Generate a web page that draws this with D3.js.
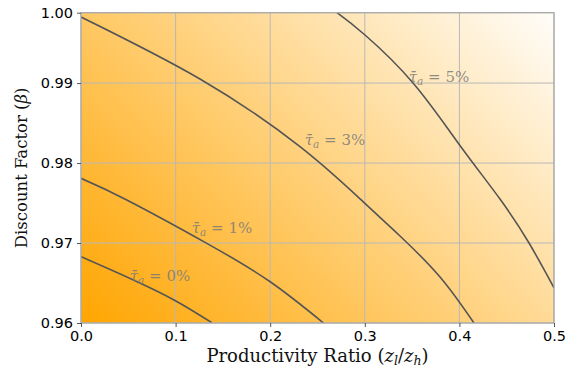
<!DOCTYPE html>
<html>
<head>
<meta charset="utf-8">
<script src="https://cdn.jsdelivr.net/npm/d3@7"></script>
<style>
  body { margin: 0; background: #fff; }
  text { font-family: "DejaVu Sans", sans-serif; }
</style>
</head>
<body>
<div id="chart"></div>
<script>
// contour lines: [productivity ratio, beta]
var contour0 = [[0, 0.96829], [0.0553, 0.96538], [0.0998, 0.96279], [0.1383, 0.96004]];
var contour1 = [[0, 0.97809], [0.0484, 0.97538], [0.1330, 0.96996], [0.2, 0.96516], [0.2564, 0.96]];
var contour3 = [[0, 0.99826], [0.1258, 0.99051], [0.2315, 0.98205], [0.2981, 0.97517],
                [0.3372, 0.97088], [0.3795, 0.96575], [0.4154, 0.96]];
var contour5 = [[0.2706, 0.9988], [0.3002, 0.99601], [0.3510, 0.99001], [0.4006, 0.98220],
                [0.4429, 0.97550], [0.4736, 0.97], [0.5, 0.9644]];

var levels = ["0%", "1%", "3%", "5%"];
// label anchor points [x, beta] (text baseline, centred)
var labelPos = [[0.0835, 0.96525], [0.149, 0.97125], [0.2685, 0.98225], [0.3784, 0.99013]];

var xTicks = [0, 0.1, 0.2, 0.3, 0.4, 0.5];
var yTicks = [0.96, 0.97, 0.98, 0.99, 0.9988];

function init() {
    var W = 567, H = 375;
    var left = 81, right = 554, top = 12.7, bottom = 323;

    var x = d3.scaleLinear().domain([0, 0.5]).range([left, right]);
    var y = d3.scaleLinear().domain([0.96, 0.9988]).range([bottom, top]);

    var svg = d3.select("#chart")
                .append("svg")
                .attr("width", W)
                .attr("height", H);

    var defs = svg.append("defs");
    var grad = defs.append("linearGradient")
        .attr("id", "bg")
        .attr("gradientUnits", "userSpaceOnUse")
        .attr("x1", left).attr("y1", bottom)
        .attr("x2", left + 397).attr("y2", bottom - 401);
    grad.append("stop").attr("offset", 0).attr("stop-color", "rgb(255,165,0)");
    grad.append("stop").attr("offset", 1).attr("stop-color", "rgb(255,255,255)");

    defs.append("clipPath").attr("id", "clip")
        .append("rect")
        .attr("x", left).attr("y", top)
        .attr("width", right - left).attr("height", bottom - top);

    svg.append("rect")
       .attr("x", left).attr("y", top)
       .attr("width", right - left).attr("height", bottom - top)
       .attr("fill", "url(#bg)");

    // grid
    svg.append("g")
       .selectAll("line")
       .data(xTicks)
       .enter()
       .append("line")
       .attr("x1", function(d) { return x(d); })
       .attr("x2", function(d) { return x(d); })
       .attr("y1", top).attr("y2", bottom)
       .attr("stroke", "#b8b8b8")
       .attr("stroke-width", 1);

    svg.append("g")
       .selectAll("line")
       .data(yTicks)
       .enter()
       .append("line")
       .attr("y1", function(d) { return y(d); })
       .attr("y2", function(d) { return y(d); })
       .attr("x1", left).attr("x2", right)
       .attr("stroke", "#b8b8b8")
       .attr("stroke-width", 1);

    // contour lines
    var line = d3.line()
        .x(function(d) { return x(d[0]); })
        .y(function(d) { return y(d[1]); })
        .curve(d3.curveNatural);

    svg.append("g")
       .attr("clip-path", "url(#clip)")
       .selectAll("path")
       .data([contour0, contour1, contour3, contour5])
       .enter()
       .append("path")
       .attr("d", line)
       .attr("fill", "none")
       .attr("stroke", "#555555")
       .attr("stroke-width", 1.6);

    // contour labels
    var lab = svg.append("g")
       .selectAll("text")
       .data(levels)
       .enter()
       .append("text")
       .attr("x", function(d, i) { return x(labelPos[i][0]); })
       .attr("y", function(d, i) { return y(labelPos[i][1]); })
       .attr("text-anchor", "middle")
       .style("font-family", "'DejaVu Serif', serif")
       .style("font-size", "15px")
       .attr("fill", "#7a7a7a")
       .attr("fill-opacity", 0.85);
    lab.append("tspan").style("font-style", "italic").text("\u03C4\u0304");
    lab.append("tspan").style("font-style", "italic").style("font-size", "10.5px")
       .attr("dy", 3).text("a");
    lab.append("tspan").attr("dy", -3).text(function(d) { return " = " + d; });

    // spines
    svg.append("rect")
       .attr("x", left).attr("y", top)
       .attr("width", right - left).attr("height", bottom - top)
       .attr("fill", "none")
       .attr("stroke", "#a8a8a8")
       .attr("stroke-width", 1.2);

    // axes
    var xAxis = d3.axisBottom(x).tickValues(xTicks).tickFormat(d3.format(".1f"))
                  .tickSizeInner(4).tickSizeOuter(0).tickPadding(4);
    var yAxis = d3.axisLeft(y).tickValues(yTicks).tickFormat(d3.format(".2f"))
                  .tickSizeInner(4).tickSizeOuter(0).tickPadding(4);

    var gx = svg.append("g").attr("transform", "translate(0," + bottom + ")").call(xAxis);
    var gy = svg.append("g").attr("transform", "translate(" + left + ",0)").call(yAxis);
    [gx, gy].forEach(function(g) {
        g.select(".domain").remove();
        g.selectAll(".tick line").attr("stroke", "#555");
        g.selectAll(".tick text")
         .attr("fill", "#000")
         .style("font-family", "'DejaVu Sans', sans-serif")
         .style("font-size", "14.5px");
    });

    // axis titles
    var xt = svg.append("text")
       .attr("x", (left + right) / 2)
       .attr("y", 362)
       .attr("text-anchor", "middle")
       .style("font-family", "'DejaVu Serif', serif")
       .style("font-size", "18px")
       .attr("fill", "#111");
    xt.append("tspan").text("Productivity Ratio (");
    xt.append("tspan").style("font-style", "italic").text("z");
    xt.append("tspan").style("font-style", "italic").style("font-size", "12.5px").attr("dy", 3).text("l");
    xt.append("tspan").attr("dy", -3).text("/");
    xt.append("tspan").style("font-style", "italic").text("z");
    xt.append("tspan").style("font-style", "italic").style("font-size", "12.5px").attr("dy", 3).text("h");
    xt.append("tspan").attr("dy", -3).text(")");

    var yt = svg.append("text")
       .attr("transform", "translate(27," + ((top + bottom) / 2) + ") rotate(-90)")
       .attr("text-anchor", "middle")
       .style("font-family", "'DejaVu Serif', serif")
       .style("font-size", "16.5px")
       .attr("fill", "#111");
    yt.append("tspan").text("Discount Factor (");
    yt.append("tspan").style("font-style", "italic").text("\u03B2");
    yt.append("tspan").text(")");
}

window.onload = init;
</script>
</body>
</html>
